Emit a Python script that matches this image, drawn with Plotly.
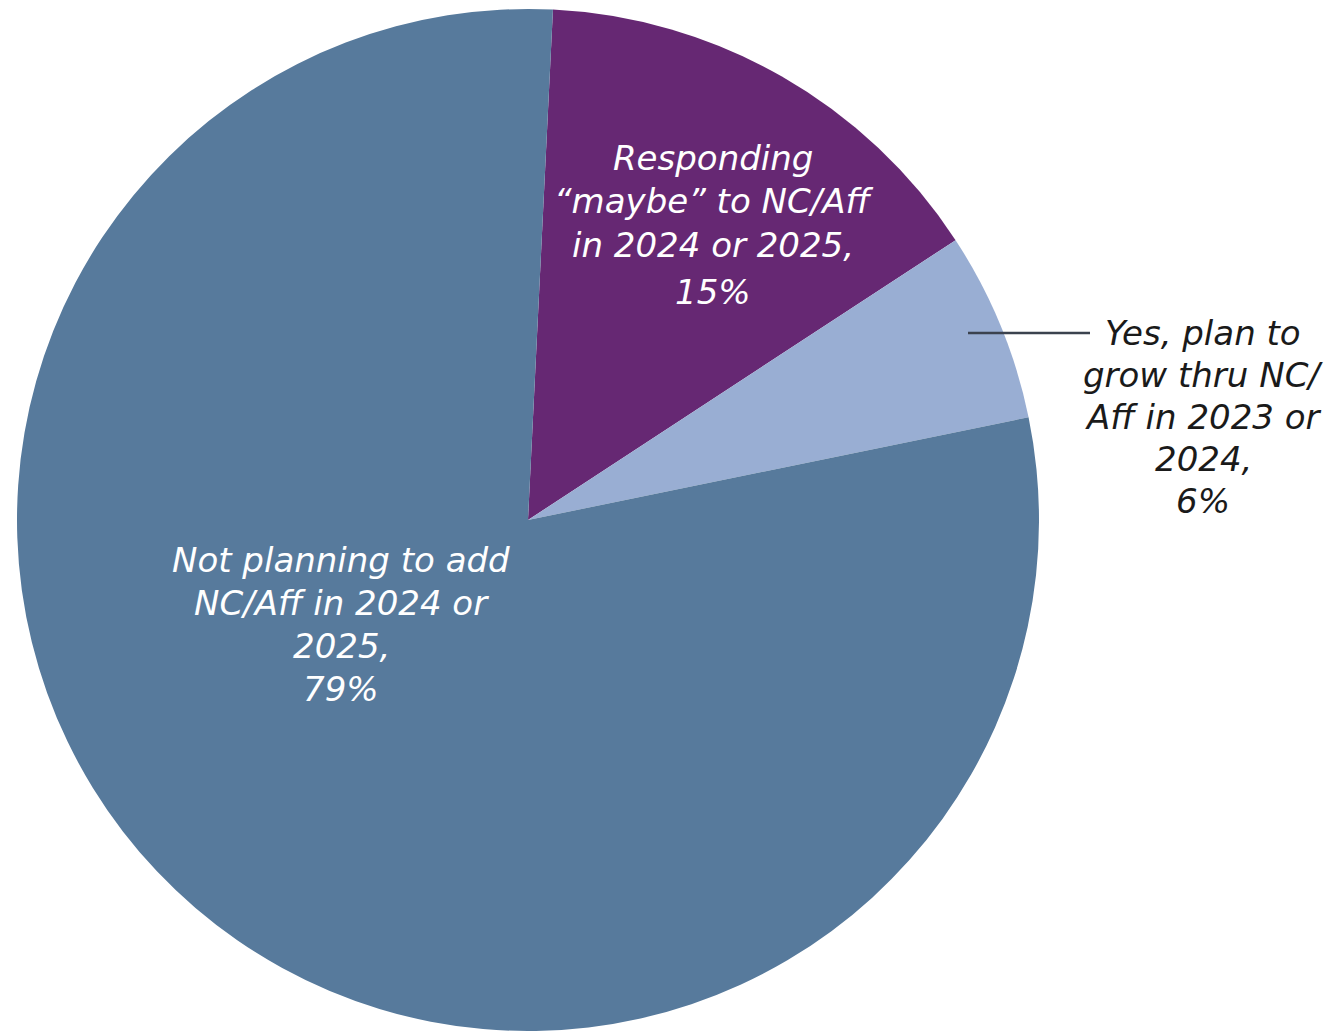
import plotly.graph_objects as go

labels = [
    "Responding “maybe” to NC/Aff in 2024 or 2025",
    "Yes, plan to grow thru NC/Aff in 2023 or 2024",
    "Not planning to add NC/Aff in 2024 or 2025",
]
values = [15, 6, 79]
colors = ["#662873", "#99AED3", "#577A9C"]

label_lines = [
    ["Responding", "“maybe” to NC/Aff", "in 2024 or 2025,", "15%"],
    ["Yes, plan to", "grow thru NC/", "Aff in 2023 or", "2024,", "6%"],
    ["Not planning to add", "NC/Aff in 2024 or", "2025,", "79%"],
]

W, H = 1334, 1031
cx, cy, r = 528, 520, 511

fig = go.Figure(
    go.Pie(
        labels=labels,
        values=values,
        sort=False,
        direction="clockwise",
        rotation=2.8,
        marker=dict(colors=colors, line=dict(color="white", width=0)),
        textinfo="none",
        hoverinfo="label+percent",
        showlegend=False,
        domain=dict(x=[(cx - r) / W, (cx + r) / W], y=[(H - cy - r) / H, (H - cy + r) / H]),
    )
)

font_family = "'DejaVu Sans', sans-serif"
# (center x, vertical centre of each line in px, colour)
label_layout = [
    (713, [158, 201, 245, 292], "white"),
    (1203, [333, 375, 417, 459, 501], "#1a1a1a"),
    (341, [560, 603, 646, 689], "white"),
]
for lines, (px, centers, col) in zip(label_lines, label_layout):
    for line, c in zip(lines, centers):
        fig.add_annotation(
            x=px / W, y=1 - c / H, xref="paper", yref="paper",
            text=line, showarrow=False,
            xanchor="center", yanchor="middle", align="center",
            font=dict(family=font_family, size=34, color=col, style="italic"),
        )

fig.add_shape(type="line", xref="paper", yref="paper",
              x0=968 / W, x1=1090 / W, y0=1 - 333 / H, y1=1 - 333 / H,
              line=dict(color="#3b424e", width=2.5))

fig.update_layout(
    width=W, height=H,
    margin=dict(l=0, r=0, t=0, b=0),
    paper_bgcolor="white", plot_bgcolor="white",
)
fig.write_html(
    "out.html",
    config={"displayModeBar": False},
    post_script="document.body.style.margin='0';document.body.style.overflow='hidden';",
)
